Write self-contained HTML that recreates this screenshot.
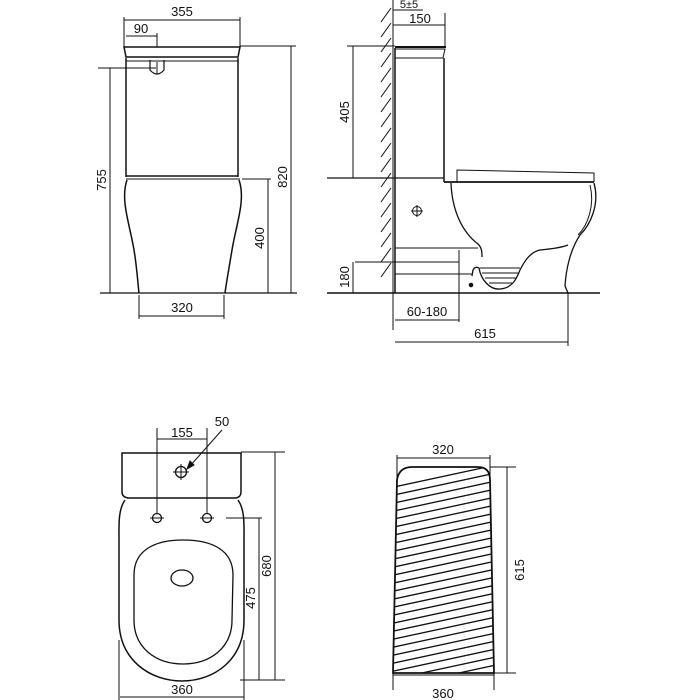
<!DOCTYPE html>
<html><head><style>
html,body{margin:0;padding:0;background:#fff;}
svg{display:block}
text{font-family:"Liberation Sans",sans-serif;font-size:13px;fill:#111;}
</style></head><body>
<svg width="700" height="700" viewBox="0 0 700 700" xmlns="http://www.w3.org/2000/svg">
<defs>
<clipPath id="hc"><path d="M393,673 L397,480 Q399,467 412,467 L478,467 Q490,467 490,480 L494,673 Z"/></clipPath>
</defs>
<g fill="none" stroke="#111" stroke-width="1">
<!-- FRONT VIEW -->
<path d="M124,47 L240,47 L238,57 L126,57 Z" stroke-width="1.5"/>
<path d="M126,58 L126,177 M238,58 L238,177" stroke-width="1.5"/>
<line x1="126" y1="61" x2="238" y2="61"/>
<line x1="126" y1="176" x2="238" y2="176" stroke-width="1.5"/>
<line x1="126" y1="179" x2="240" y2="179"/>
<path d="M127,180 C120,200 130,225 134,250 C137,268 138,285 139,293" stroke-width="1.5"/>
<path d="M239,180 C246,200 236,225 232,250 C229,268 226,285 225,293" stroke-width="1.5"/>
<path d="M150,60 L150,70 Q157,78 164,70 L164,60" stroke-width="1.2"/>
<line x1="157" y1="62" x2="157" y2="74"/>
<line x1="100" y1="293" x2="297" y2="293" stroke-width="1.3"/>
<line x1="124" y1="20" x2="240" y2="20"/>
<line x1="124" y1="17" x2="124" y2="47"/><line x1="240" y1="17" x2="240" y2="47"/>
<line x1="126" y1="36" x2="157" y2="36"/><line x1="157" y1="33" x2="157" y2="47"/>
<line x1="110" y1="68" x2="110" y2="293"/><line x1="98" y1="68" x2="156" y2="68"/>
<line x1="291" y1="46" x2="291" y2="293"/><line x1="240" y1="46" x2="296" y2="46"/>
<line x1="268" y1="179" x2="268" y2="293"/><line x1="242" y1="179" x2="271" y2="179"/>
<line x1="139" y1="316" x2="224" y2="316"/><line x1="139" y1="295" x2="139" y2="319"/><line x1="224" y1="295" x2="224" y2="319"/>

<!-- SIDE VIEW -->
<line x1="393" y1="0" x2="393" y2="330"/>
<path d="M381,22 L391,8 M381,37 L391,23 M381,52 L391,38 M381,67 L391,53 M381,82 L391,68 M381,97 L391,83 M381,112 L391,98 M381,127 L391,113 M381,142 L391,128 M381,157 L391,143 M381,172 L391,158 M381,187 L391,173 M381,202 L391,188 M381,217 L391,203 M381,232 L391,218 M381,247 L391,233 M381,262 L391,248 M381,277 L391,263"/>
<line x1="393" y1="10" x2="423" y2="10"/>
<line x1="393" y1="25" x2="445" y2="25"/><line x1="445" y1="13" x2="445" y2="47"/>
<line x1="395" y1="47" x2="446" y2="47" stroke-width="2"/>
<path d="M395,49 L445,49 L443,58 L395,58" />
<line x1="395" y1="48" x2="395" y2="293" stroke-width="1.5"/>
<line x1="444" y1="58" x2="444" y2="182" stroke-width="1.5"/>
<line x1="347" y1="46" x2="395" y2="46"/>
<line x1="353" y1="46" x2="353" y2="178"/>
<line x1="327" y1="178" x2="444" y2="178" stroke-width="1.3"/>
<path d="M457,182 L457,170 L594,173 L594,182"/>
<line x1="444" y1="182" x2="594" y2="182" stroke-width="1.8"/>
<path d="M451,183 C452,210 462,232 478,244 C482,248 482,252 482,257" stroke-width="1.3"/>
<path d="M594,183 C600,205 590,225 580,235 C570,250 566,270 565,286 L568,293" stroke-width="1.3"/>
<path d="M590,185 C595,205 588,225 578,235" />
<path d="M472,276 L473,270 Q475,266 479,268 C481,280 490,290 500,289 C512,288 516,280 520,270 C524,262 530,252 540,250 C550,249 560,248 568,245" stroke-width="1.3"/>
<path d="M480,268 L520,268 M482,273 L518,273 M485,278 L516,278 M489,283 L512,283"/>
<circle cx="471" cy="285" r="1.8" fill="#111"/>
<circle cx="417" cy="211" r="4.5"/><path d="M411,211 L423,211 M417,205 L417,217"/>
<line x1="395" y1="248" x2="478" y2="248"/>
<line x1="355" y1="262" x2="459" y2="262"/>
<line x1="395" y1="274" x2="472" y2="274"/>
<line x1="459" y1="250" x2="459" y2="322"/>
<line x1="353" y1="262" x2="353" y2="293"/>
<line x1="327" y1="293" x2="600" y2="293" stroke-width="1.5"/>
<line x1="395" y1="320" x2="459" y2="320"/>
<line x1="395" y1="342" x2="568" y2="342"/><line x1="568" y1="293" x2="568" y2="346"/>

<!-- TOP VIEW -->
<path d="M122,453 L241,453 L241,492 Q241,497 236,498 L128,498 Q122,497 122,492 Z" stroke-width="1.5"/>
<path d="M125,500 C118,510 119,525 119,540 L119,620 C119,660 150,681 182,681 C214,681 244,660 244,620 L244,540 C244,525 245,510 238,500" stroke-width="1.5"/>
<path d="M134,575 C134,550 155,540 183,540 C212,540 233,550 233,575 L232,620 C232,648 210,664 183,664 C156,664 134,648 134,620 Z" stroke-width="1.3"/>
<ellipse cx="182" cy="578" rx="11" ry="8" stroke-width="1.3"/>
<circle cx="157" cy="518" r="4.5" stroke-width="1.3"/><circle cx="207" cy="518" r="4.5" stroke-width="1.3"/>
<path d="M150,518 L164,518 M200,518 L214,518"/>
<circle cx="181" cy="472" r="5.5" stroke-width="1.3"/><path d="M173,472 L189,472 M181,464 L181,480"/>
<line x1="157" y1="428" x2="157" y2="513"/><line x1="207" y1="428" x2="207" y2="513"/>
<line x1="157" y1="439" x2="207" y2="439"/>
<line x1="222" y1="430" x2="190" y2="466"/>
<path d="M187,469 L190,461 L194,465 Z" fill="#111"/>
<line x1="275" y1="452" x2="275" y2="680"/><line x1="241" y1="452" x2="285" y2="452"/><line x1="240" y1="680" x2="285" y2="680"/>
<line x1="259" y1="518" x2="259" y2="680"/><line x1="226" y1="518" x2="262" y2="518"/>
<line x1="120" y1="697" x2="244" y2="697"/><line x1="119" y1="640" x2="119" y2="700"/><line x1="244" y1="640" x2="244" y2="700"/>

<!-- HATCHED VIEW -->
<path d="M393,673 L397,480 Q399,467 412,467 L478,467 Q490,467 490,480 L494,673 Z" stroke-width="1.8"/>
<g clip-path="url(#hc)" stroke-width="1.3">
<path d="M380,490 L510,462 M380,498 L510,470 M380,506 L510,478 M380,514 L510,486 M380,522 L510,494 M380,530 L510,502 M380,538 L510,510 M380,546 L510,518 M380,554 L510,526 M380,562 L510,534 M380,570 L510,542 M380,578 L510,550 M380,586 L510,558 M380,594 L510,566 M380,602 L510,574 M380,610 L510,582 M380,618 L510,590 M380,626 L510,598 M380,634 L510,606 M380,642 L510,614 M380,650 L510,622 M380,658 L510,630 M380,666 L510,638 M380,674 L510,646 M380,682 L510,654 M380,690 L510,662 M380,698 L510,670 M380,706 L510,678"/>
</g>
<line x1="397" y1="458" x2="490" y2="458"/><line x1="397" y1="455" x2="397" y2="478"/><line x1="490" y1="455" x2="490" y2="478"/>
<line x1="507" y1="467" x2="507" y2="673"/><line x1="490" y1="467" x2="516" y2="467"/><line x1="494" y1="673" x2="516" y2="673"/>
<line x1="393" y1="673" x2="393" y2="690"/><line x1="494" y1="673" x2="494" y2="690"/>
<line x1="393" y1="675" x2="494" y2="675"/>
</g>

<text x="182" y="16" text-anchor="middle">355</text>
<text x="141" y="33" text-anchor="middle">90</text>
<text x="182" y="312" text-anchor="middle">320</text>
<text transform="translate(106,180) rotate(-90)" text-anchor="middle">755</text>
<text transform="translate(287,177) rotate(-90)" text-anchor="middle">820</text>
<text transform="translate(264,238) rotate(-90)" text-anchor="middle">400</text>
<text x="409" y="8" text-anchor="middle" style="font-size:11px">5±5</text>
<text x="420" y="23" text-anchor="middle">150</text>
<text transform="translate(349,112) rotate(-90)" text-anchor="middle">405</text>
<text transform="translate(349,277) rotate(-90)" text-anchor="middle">180</text>
<text x="427" y="316" text-anchor="middle">60-180</text>
<text x="485" y="338" text-anchor="middle">615</text>
<text x="182" y="437" text-anchor="middle">155</text>
<text x="222" y="426" text-anchor="middle">50</text>
<text transform="translate(271,566) rotate(-90)" text-anchor="middle">680</text>
<text transform="translate(255,598) rotate(-90)" text-anchor="middle">475</text>
<text x="182" y="694" text-anchor="middle">360</text>
<text x="443" y="454" text-anchor="middle">320</text>
<text transform="translate(524,570) rotate(-90)" text-anchor="middle">615</text>
<text x="443" y="698" text-anchor="middle">360</text>
</svg>
</body></html>
